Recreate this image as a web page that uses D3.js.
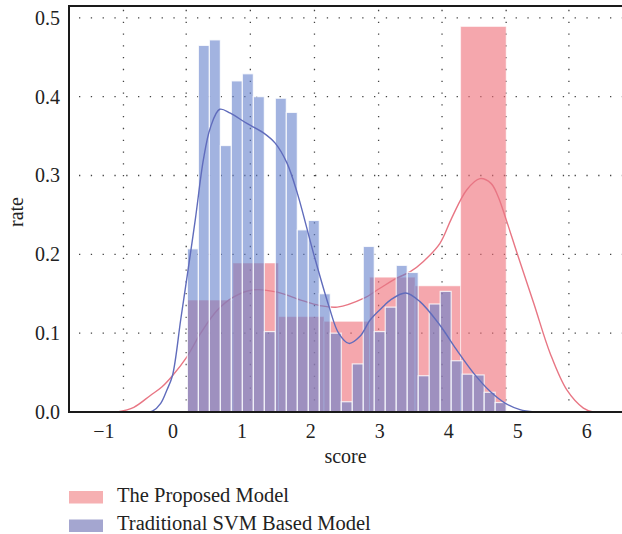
<!DOCTYPE html>
<html>
<head>
<meta charset="utf-8">
<script src="https://cdn.jsdelivr.net/npm/d3@7"></script>
<style>
  body { margin: 0; background: #fff; }
  text { font-family: "Liberation Serif", "DejaVu Serif", serif; fill: #222; }
</style>
</head>
<body>
<svg id="chart" width="622" height="534"></svg>
<script>
// histogram bins share one range, bar heights
var binRange = [0.217, 4.84];

var proposedRates = [0.142, 0.189, 0.121, 0.115, 0.171, 0.160, 0.489];

var svmRates = [0.207, 0.465, 0.472, 0.338, 0.420, 0.429, 0.400, 0.102, 0.398, 0.380,
                0.231, 0.243, 0.150, 0.100, 0.013, 0.061, 0.210, 0.102, 0.133, 0.186,
                0.177, 0.046, 0.137, 0.153, 0.065, 0.048, 0.047, 0.025, 0.012];

// density curves as [score, rate]
var proposedKde = [[-0.8, 0], [-0.56, 0.006], [-0.32, 0.021], [-0.15, 0.032], [0, 0.046],
  [0.21, 0.07], [0.41, 0.1], [0.65, 0.129], [0.89, 0.146], [1.18, 0.155], [1.52, 0.152],
  [1.86, 0.142], [2.14, 0.135], [2.39, 0.133], [2.77, 0.144], [3.01, 0.157], [3.26, 0.17],
  [3.45, 0.178], [3.64, 0.191], [3.88, 0.214], [4.05, 0.246], [4.27, 0.282], [4.46, 0.296],
  [4.62, 0.29], [4.72, 0.274], [4.84, 0.244], [5.0, 0.201], [5.24, 0.138], [5.48, 0.074],
  [5.72, 0.028], [5.96, 0.005], [6.1, 0]];

var svmKde = [[-0.35, 0], [-0.29, 0.001], [-0.17, 0.011], [-0.08, 0.028], [0, 0.046],
  [0.12, 0.117], [0.213, 0.172], [0.333, 0.245], [0.449, 0.32], [0.551, 0.361],
  [0.686, 0.384], [0.84, 0.379], [1.08, 0.366], [1.32, 0.354], [1.49, 0.341], [1.66, 0.316],
  [1.81, 0.278], [2.05, 0.2], [2.27, 0.134], [2.41, 0.1], [2.56, 0.087], [2.72, 0.096],
  [2.87, 0.117], [3.06, 0.134], [3.16, 0.142], [3.38, 0.151], [3.59, 0.14], [3.88, 0.11],
  [4.12, 0.079], [4.37, 0.049], [4.61, 0.026], [4.83, 0.011], [5.04, 0.003], [5.25, 0]];

var xTicks = [-1, 0, 1, 2, 3, 4, 5, 6];
var yTicks = [0, 0.1, 0.2, 0.3, 0.4, 0.5];
// the dotted vertical grid does not sit on the x ticks in the source figure
var xGrid = [-0.71, 0.2, 1.13, 2.06, 2.99, 3.91, 4.84, 5.75];

var legendNames = ["The Proposed Model", "Traditional SVM Based Model"];

var svg = d3.select("#chart");

var x = d3.scaleLinear().domain([-1.5, 6.52]).range([69, 622]);
var y = d3.scaleLinear().domain([0, 0.515]).range([412, 6]);

// grid
var grid = svg.append("g")
  .attr("stroke", "#444")
  .attr("stroke-width", 1.3)
  .attr("stroke-dasharray", "1.3,10.5");

grid.selectAll(".hgrid")
  .data(yTicks.slice(1))
  .enter().append("line")
    .attr("x1", x.range()[0] + 10)
    .attr("x2", x.range()[1])
    .attr("y1", d => y(d))
    .attr("y2", d => y(d));

grid.selectAll(".vgrid")
  .data(xGrid)
  .enter().append("line")
    .attr("x1", d => x(d))
    .attr("x2", d => x(d))
    .attr("y1", y(0.5) - 8)
    .attr("y2", y(0));

function bins(rates) {
  var w = (binRange[1] - binRange[0]) / rates.length;
  return rates.map((r, i) => ({x0: binRange[0] + i * w, x1: binRange[0] + (i + 1) * w, v: r}));
}

var line = d3.line()
  .x(d => x(d[0]))
  .y(d => y(d[1]))
  .curve(d3.curveCatmullRom);

// proposed model: bars then curve
svg.append("g").selectAll("rect")
  .data(bins(proposedRates))
  .enter().append("rect")
    .attr("x", d => x(d.x0))
    .attr("width", d => x(d.x1) - x(d.x0))
    .attr("y", d => y(d.v))
    .attr("height", d => y(0) - y(d.v))
    .attr("fill", "rgb(238,108,118)")
    .attr("fill-opacity", 0.6)
    .attr("stroke", "#fff")
    .attr("stroke-opacity", 0.5)
    .attr("stroke-width", 1);

svg.append("path")
  .datum(proposedKde)
  .attr("d", line)
  .attr("fill", "none")
  .attr("stroke", "rgb(232,118,132)")
  .attr("stroke-width", 1.4);

// svm model: bars then curve
svg.append("g").selectAll("rect")
  .data(bins(svmRates))
  .enter().append("rect")
    .attr("x", d => x(d.x0))
    .attr("width", d => x(d.x1) - x(d.x0))
    .attr("y", d => y(d.v))
    .attr("height", d => y(0) - y(d.v))
    .attr("fill", "rgb(100,128,204)")
    .attr("fill-opacity", 0.6)
    .attr("stroke", "#fff")
    .attr("stroke-opacity", 0.8)
    .attr("stroke-width", 1.2);

svg.append("path")
  .datum(svmKde)
  .attr("d", line)
  .attr("fill", "none")
  .attr("stroke", "rgb(96,108,188)")
  .attr("stroke-width", 1.4);

// axes
var xAxis = svg.append("g")
  .attr("transform", "translate(0," + y(0) + ")")
  .call(d3.axisBottom(x).tickValues(xTicks).tickSize(0).tickPadding(12)
    .tickFormat(d => d < 0 ? "\u2212" + Math.abs(d) : d));
xAxis.select(".domain").remove();
xAxis.selectAll("text").attr("font-size", 20).attr("font-family", null).attr("fill", "#222");

var yAxis = svg.append("g")
  .attr("transform", "translate(" + x.range()[0] + ",0)")
  .call(d3.axisLeft(y).tickValues(yTicks).tickSize(0).tickPadding(9).tickFormat(d3.format(".1f")));
yAxis.select(".domain").remove();
yAxis.selectAll("text").attr("font-size", 20).attr("font-family", null).attr("fill", "#222");

var frame = svg.append("g").attr("stroke", "#1a1a1a").attr("stroke-width", 2);
frame.append("line")
  .attr("x1", x.range()[0]).attr("x2", x.range()[1])
  .attr("y1", y(0)).attr("y2", y(0));
frame.append("line")
  .attr("x1", x.range()[0]).attr("x2", x.range()[1])
  .attr("y1", y.range()[1]).attr("y2", y.range()[1]);
frame.append("line")
  .attr("x1", x.range()[0]).attr("x2", x.range()[0])
  .attr("y1", y.range()[1] - 1).attr("y2", y(0) + 1);

svg.append("text")
  .attr("x", (x.range()[0] + x.range()[1]) / 2)
  .attr("y", 463)
  .attr("text-anchor", "middle")
  .attr("font-size", 20)
  .text("score");

svg.append("text")
  .attr("transform", "translate(23,212) rotate(-90)")
  .attr("text-anchor", "middle")
  .attr("font-size", 20)
  .text("rate");

// legend
var legendColors = ["rgb(246,176,178)", "rgb(164,166,208)"];
var legend = svg.append("g").selectAll("g")
  .data(legendNames)
  .enter().append("g")
    .attr("transform", (d, i) => "translate(69," + (491 + i * 28.5) + ")");

legend.append("rect")
  .attr("width", 34)
  .attr("height", 12.5)
  .attr("fill", (d, i) => legendColors[i]);

legend.append("text")
  .attr("x", 48)
  .attr("y", 10.5)
  .attr("font-size", 20.5)
  .text(d => d);
</script>
</body>
</html>
